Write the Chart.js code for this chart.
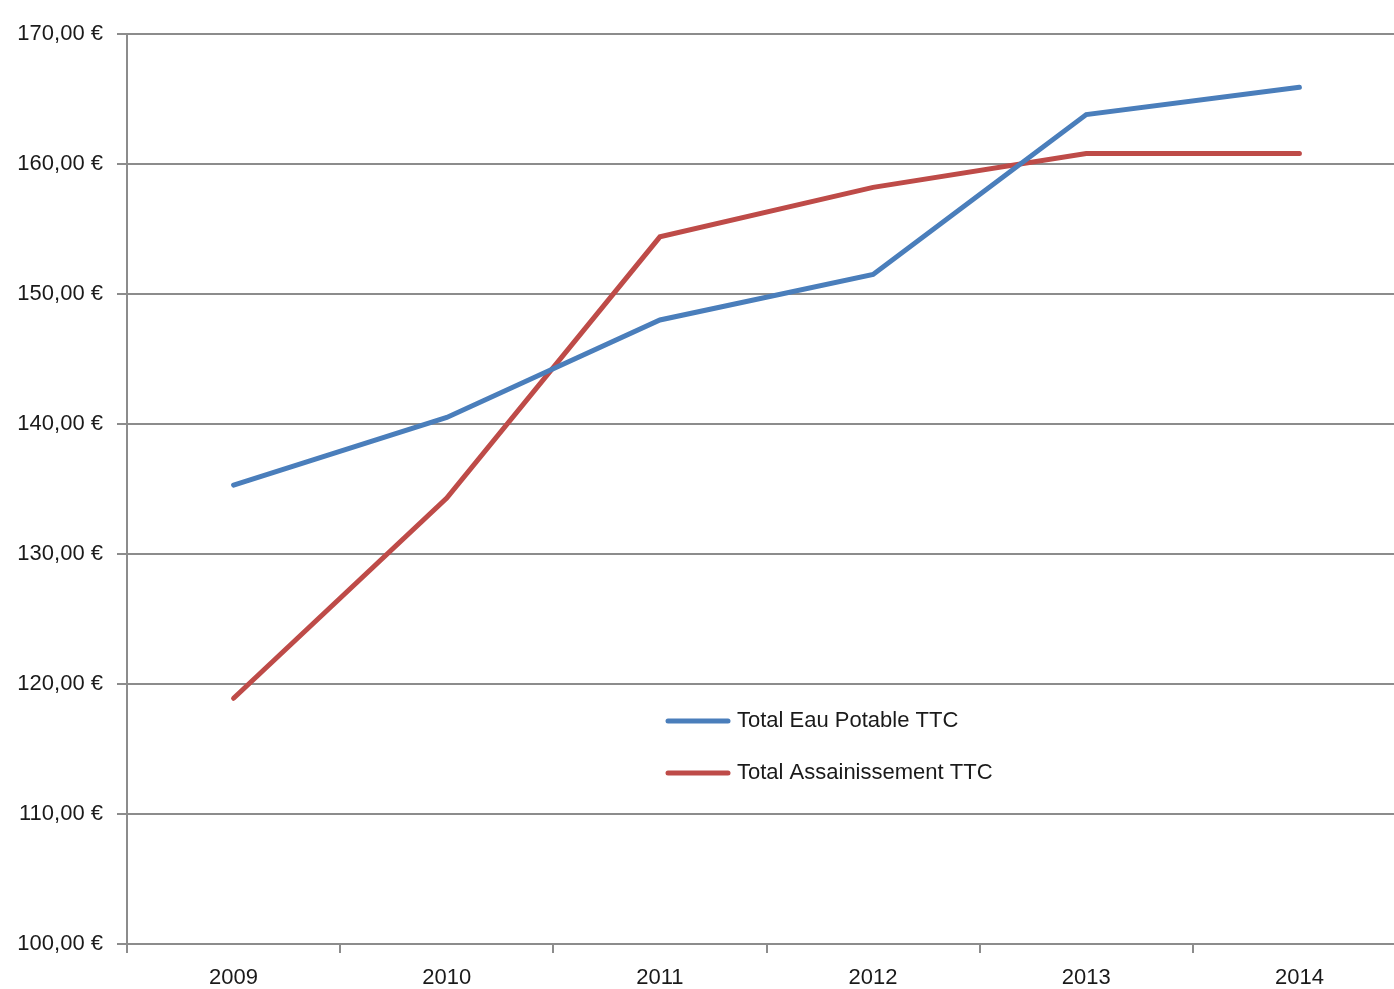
<!DOCTYPE html>
<html>
<head>
<meta charset="utf-8">
<script src="https://cdn.jsdelivr.net/npm/chart.js@4"></script>
<style>
  html, body { margin: 0; padding: 0; background: #fff; overflow: hidden; }
  #clip { width: 1394px; height: 989px; overflow: hidden; }
  /* the original plot runs a bit past the right edge of the picture */
  #wrap { width: 1406px; height: 989px; }
</style>
</head>
<body>
<div id="clip"><div id="wrap"><canvas id="chart"></canvas></div></div>
<script>
const years = ['2009', '2010', '2011', '2012', '2013', '2014'];
const eauPotable = [135.3, 140.5, 148.0, 151.5, 163.8, 165.9];
const assainissement = [118.9, 134.3, 154.4, 158.2, 160.8, 160.8];
const seriesNames = ['Total Eau Potable TTC', 'Total Assainissement TTC'];

const FONT = 'Liberation Sans';
const gridGrey = '#8c8c8c';

// legend drawn inside the plot, like the original office chart
const innerLegend = {
  id: 'innerLegend',
  afterDraw(chart, args, opts) {
    const ctx = chart.ctx;
    ctx.save();
    chart.data.datasets.forEach((ds, i) => {
      const y = opts.y + i * opts.step;
      ctx.strokeStyle = ds.borderColor;
      ctx.lineWidth = 5;
      ctx.lineCap = 'round';
      ctx.beginPath();
      ctx.moveTo(opts.x, y);
      ctx.lineTo(opts.x + 60, y);
      ctx.stroke();
      ctx.fillStyle = '#1a1a1a';
      ctx.font = '22px "' + FONT + '"';
      ctx.textBaseline = 'middle';
      ctx.fillText(ds.label, opts.x + 69, y);
    });
    ctx.restore();
  }
};

const ctx = document.getElementById('chart').getContext('2d');
new Chart(ctx, {
  type: 'line',
  data: {
    labels: years,
    datasets: [
      {
        label: seriesNames[0],
        data: eauPotable,
        borderColor: '#4a7ebb',
        borderWidth: 5,
        pointRadius: 0,
        tension: 0,
        borderCapStyle: 'round'
      },
      {
        label: seriesNames[1],
        data: assainissement,
        borderColor: '#be4b48',
        borderWidth: 5,
        pointRadius: 0,
        tension: 0,
        borderCapStyle: 'round'
      }
    ]
  },
  options: {
    responsive: true,
    maintainAspectRatio: false,
    animation: false,
    layout: { padding: { top: 34, right: 0, left: 0, bottom: 0 } },
    plugins: {
      legend: { display: false },
      tooltip: { enabled: false },
      innerLegend: { x: 668, y: 721, step: 52 }
    },
    scales: {
      x: {
        offset: true,
        grid: {
          offset: true,
          drawOnChartArea: false,
          drawTicks: true,
          tickLength: 9,
          color: gridGrey,
          lineWidth: 2
        },
        border: { display: true, color: gridGrey, width: 2 },
        ticks: {
          color: '#1a1a1a',
          padding: 12,
          font: { family: FONT, size: 22 },
          maxRotation: 0
        },
        afterFit(scale) { scale.height = 45; }
      },
      y: {
        min: 100,
        max: 170,
        grid: {
          color: gridGrey,
          lineWidth: 2,
          tickLength: 10
        },
        border: { display: true, color: gridGrey, width: 2 },
        ticks: {
          stepSize: 10,
          color: '#1a1a1a',
          padding: 14,
          font: { family: FONT, size: 22 },
          callback: v => v.toFixed(2).replace('.', ',') + ' €'
        },
        afterFit(scale) { scale.width = 127; }
      }
    }
  },
  plugins: [innerLegend]
});
</script>
</body>
</html>
